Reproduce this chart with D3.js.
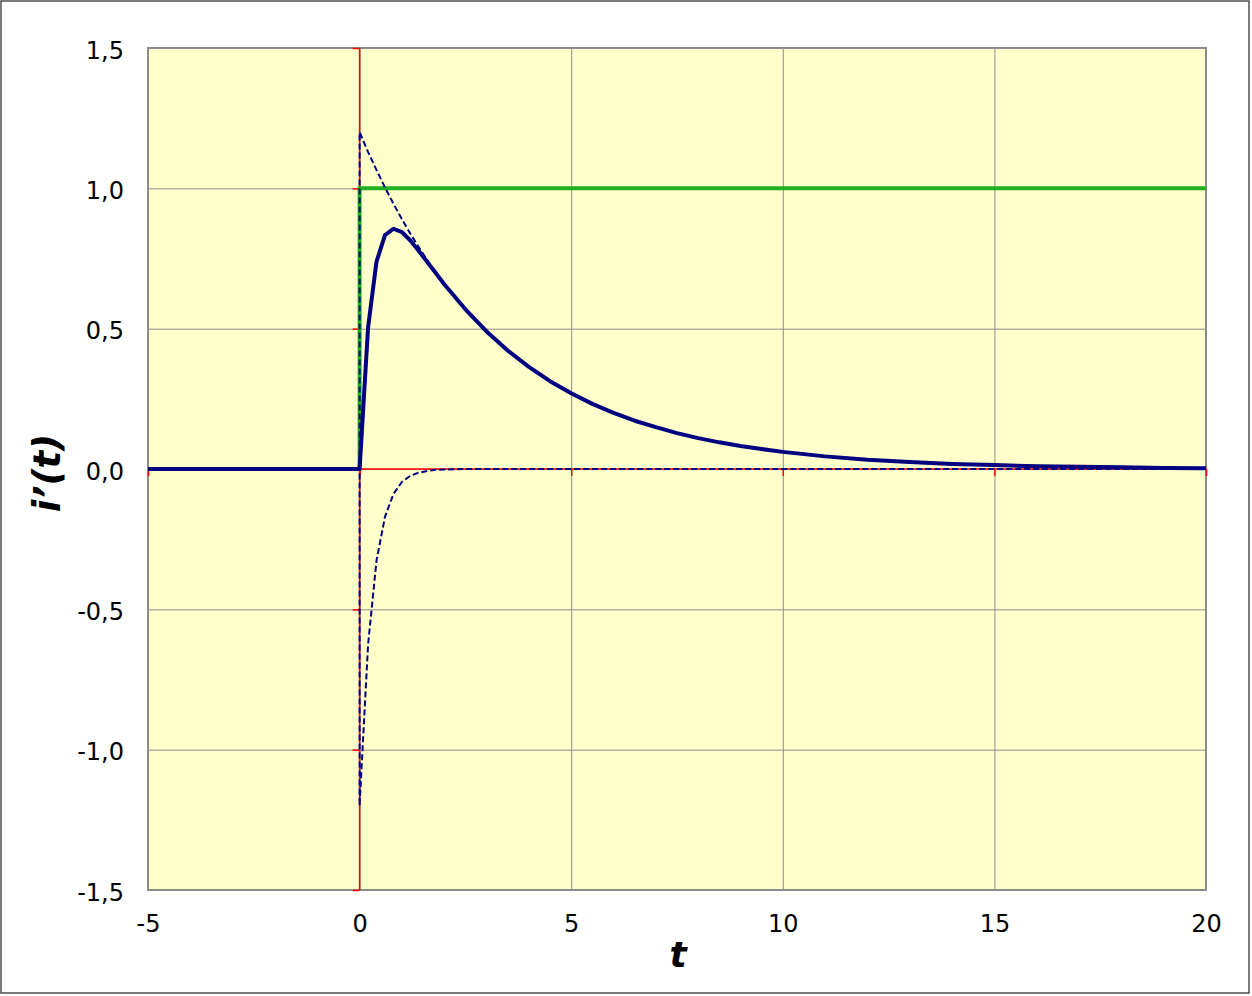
<!DOCTYPE html>
<html>
<head>
<meta charset="utf-8">
<script src="https://cdn.jsdelivr.net/npm/d3@7"></script>
<style>
  html, body { margin: 0; padding: 0; background: #ffffff; }
  svg { display: block; }
  text { font-family: "DejaVu Sans", Verdana, sans-serif; }
</style>
</head>
<body>
<script>
// ---- data ----
const xTicks = [-5, 0, 5, 10, 15, 20];
const yTicks = [-1.5, -1, -0.5, 0, 0.5, 1, 1.5];

// solid response i'(t)
const tSolid = [-5, 0, 0.2, 0.4, 0.6, 0.8, 1.0, 1.2, 1.4, 1.6, 1.8, 2.0,
  2.5, 3, 3.5, 4, 4.5, 5, 5.5, 6, 6.5, 7, 7.5, 8, 8.5, 9, 9.5, 10,
  11, 12, 13, 14, 15, 16, 17, 18, 19, 20];
const iSolid = [0, 0, 0.504, 0.739, 0.833, 0.856, 0.844, 0.814, 0.777, 0.737, 0.698, 0.658,
  0.569, 0.490, 0.422, 0.364, 0.313, 0.270, 0.232, 0.200, 0.172, 0.149, 0.128, 0.110, 0.095, 0.082, 0.071, 0.061,
  0.045, 0.033, 0.025, 0.018, 0.014, 0.010, 0.008, 0.006, 0.004, 0.003];

// dashed upper component
const tUpper = [-5, 0, 0, 0.2, 0.4, 0.6, 0.8, 1.0, 1.2, 1.4, 1.6, 1.8, 2.0,
  2.5, 3, 3.5, 4, 4.5, 5, 5.5, 6, 6.5, 7, 7.5, 8, 8.5, 9, 9.5, 10,
  11, 12, 13, 14, 15, 16, 17, 18, 19, 20];
const iUpper = [0, 0, 1.2, 1.130, 1.065, 1.003, 0.945, 0.890, 0.838, 0.790, 0.744, 0.701, 0.660,
  0.569, 0.490, 0.422, 0.364, 0.313, 0.270, 0.232, 0.200, 0.172, 0.149, 0.128, 0.110, 0.095, 0.082, 0.071, 0.061,
  0.045, 0.033, 0.025, 0.018, 0.014, 0.010, 0.008, 0.006, 0.004, 0.003];

// dashed lower component
const tLower = [-5, 0, 0, 0.2, 0.4, 0.6, 0.8, 1.0, 1.2, 1.4, 1.6, 1.8, 2.0, 2.5, 3, 20];
const iLower = [0, 0, -1.2, -0.626, -0.326, -0.170, -0.089, -0.046, -0.024, -0.013, -0.007, -0.003, -0.002, 0, 0, 0];

// unit step (green)
const tStep = [-5, 0, 0, 20];
const iStep = [0, 0, 1, 1];

// ---- layout ----
const W = 1252, H = 996;
const plot = { left: 148, top: 48, right: 1206, bottom: 890 };

const svg = d3.select("body").append("svg").attr("width", W).attr("height", H);

// outer frame
svg.append("rect").attr("x", 1).attr("y", 1).attr("width", W - 4).attr("height", H - 4)
  .attr("fill", "#ffffff").attr("stroke", "#4d4d4d").attr("stroke-width", 1.5);

const x = d3.scaleLinear().domain([-5, 20]).range([plot.left, plot.right]);
const y = d3.scaleLinear().domain([-1.5, 1.5]).range([plot.bottom, plot.top]);
const pw = plot.right - plot.left, ph = plot.bottom - plot.top;

// plot background
svg.append("rect").attr("x", plot.left).attr("y", plot.top).attr("width", pw).attr("height", ph)
  .attr("fill", "#ffffcc");

// grid
const gx = svg.append("g").attr("transform", `translate(0,${plot.bottom})`)
  .call(d3.axisBottom(x).tickValues(xTicks).tickSize(-ph).tickFormat(""));
gx.select(".domain").remove();
gx.selectAll("line").attr("stroke", "#8c8c8c").attr("stroke-width", 1);

const gy = svg.append("g").attr("transform", `translate(${plot.left},0)`)
  .call(d3.axisLeft(y).tickValues(yTicks).tickSize(-pw).tickFormat(""));
gy.select(".domain").remove();
gy.selectAll("line").attr("stroke", "#8c8c8c").attr("stroke-width", 1);

// plot border
svg.append("rect").attr("x", plot.left).attr("y", plot.top).attr("width", pw).attr("height", ph)
  .attr("fill", "none").attr("stroke", "#8c8c8c").attr("stroke-width", 2);

// red axes through origin
svg.append("line").attr("x1", x(0)).attr("x2", x(0)).attr("y1", plot.top).attr("y2", plot.bottom)
  .attr("stroke", "#ff0000").attr("stroke-width", 1.5);
svg.append("line").attr("x1", plot.left).attr("x2", plot.right).attr("y1", y(0)).attr("y2", y(0))
  .attr("stroke", "#ff0000").attr("stroke-width", 1.5);

const rtY = svg.append("g").attr("transform", `translate(${x(0)},0)`)
  .call(d3.axisLeft(y).tickValues(yTicks).tickSize(7).tickFormat(""));
rtY.select(".domain").remove();
rtY.selectAll("line").attr("stroke", "#ff0000").attr("stroke-width", 1.5);

const rtX = svg.append("g").attr("transform", `translate(0,${y(0)})`)
  .call(d3.axisBottom(x).tickValues(xTicks).tickSize(7).tickFormat(""));
rtX.select(".domain").remove();
rtX.selectAll("line").attr("stroke", "#ff0000").attr("stroke-width", 1.5);

// tick labels
const lx = svg.append("g").attr("transform", `translate(0,${plot.bottom})`)
  .call(d3.axisBottom(x).tickValues(xTicks).tickSize(0).tickPadding(25).tickFormat(d => String(d)));
lx.select(".domain").remove();
lx.selectAll("text").attr("font-size", 24).attr("fill", "#000")
  .attr("font-family", "'DejaVu Sans', Verdana, sans-serif");

const ly = svg.append("g").attr("transform", `translate(${plot.left},0)`)
  .call(d3.axisLeft(y).tickValues(yTicks).tickSize(0).tickPadding(24)
    .tickFormat(d => d.toFixed(1).replace(".", ",")));
ly.select(".domain").remove();
ly.selectAll("text").attr("font-size", 24).attr("fill", "#000").attr("dy", "0.42em")
  .attr("font-family", "'DejaVu Sans', Verdana, sans-serif");

// series
const mk = (ts, vs) => ts.map((t, i) => [t, vs[i]]);
const line = d3.line().x(d => x(d[0])).y(d => y(d[1]));

svg.append("path").datum(mk(tStep, iStep)).attr("d", line)
  .attr("fill", "none").attr("stroke", "#22b022").attr("stroke-width", 4);

svg.append("path").datum(mk(tUpper, iUpper)).attr("d", line)
  .attr("fill", "none").attr("stroke", "#000080").attr("stroke-width", 2)
  .attr("stroke-dasharray", "6,3");
svg.append("path").datum(mk(tLower, iLower)).attr("d", line)
  .attr("fill", "none").attr("stroke", "#000080").attr("stroke-width", 2)
  .attr("stroke-dasharray", "6,3");

svg.append("path").datum(mk(tSolid, iSolid)).attr("d", line)
  .attr("fill", "none").attr("stroke", "#000080").attr("stroke-width", 4)
  .attr("stroke-linejoin", "round");

// axis titles
svg.append("text").attr("x", 678).attr("y", 967).attr("text-anchor", "middle")
  .attr("font-size", 36).attr("font-weight", "bold").attr("font-style", "italic").text("t");

svg.append("text").attr("transform", "translate(60,473) rotate(-90)").attr("text-anchor", "middle")
  .attr("font-size", 37).attr("font-weight", "bold").attr("font-style", "italic").text("i’(t)");
</script>
</body>
</html>
